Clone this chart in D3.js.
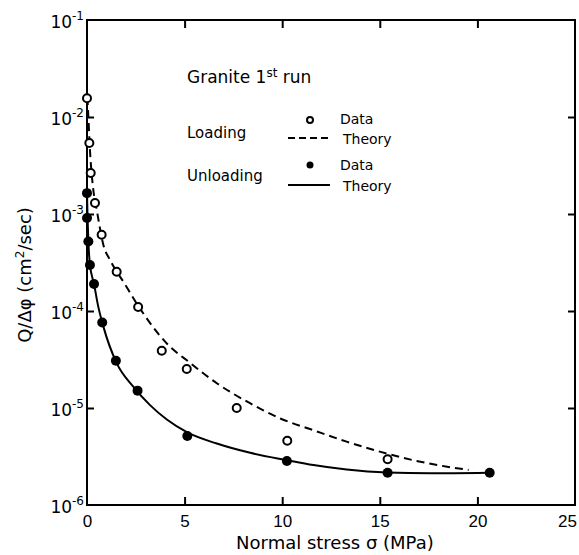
<!DOCTYPE html>
<html>
<head>
<meta charset="utf-8">
<script src="https://cdn.jsdelivr.net/npm/d3@7"></script>
<style>
  body { margin: 0; background: #fff; }
  svg { display: block; font-family: "DejaVu Sans", sans-serif; }
</style>
</head>
<body>
<div id="chart"></div>
<script>
/* Granite 1st run: flow rate vs normal stress */
const xTicks = [0, 5, 10, 15, 20, 25];
const yDecades = [-1, -2, -3, -4, -5, -6];

/* Loading data (open circles) */
const loadSigma = [0.0, 0.12, 0.19, 0.41, 0.75, 1.52, 2.62, 3.83, 5.11, 7.67, 10.26, 15.4];
const loadQ = [1.56e-2, 5.4e-3, 2.65e-3, 1.3e-3, 6.1e-4, 2.54e-4, 1.1e-4, 3.9e-5, 2.52e-5, 1.0e-5, 4.6e-6, 2.96e-6];

/* Unloading data (filled circles) */
const unloadSigma = [0.0, 0.0, 0.07, 0.15, 0.36, 0.78, 1.48, 2.59, 5.14, 10.24, 15.4, 20.63];
const unloadQ = [1.64e-3, 9.1e-4, 5.2e-4, 2.98e-4, 1.9e-4, 7.6e-5, 3.07e-5, 1.51e-5, 5.14e-6, 2.84e-6, 2.15e-6, 2.15e-6];

/* Theory curves */
const loadTheorySigma = [0.02, 0.07, 0.15, 0.32, 0.5, 0.84, 1.2, 1.9, 2.6, 4.1, 5.3, 6.65, 8.35, 9.9, 11.6, 13.3, 15.0, 16.7, 18.45, 19.55];
const loadTheoryQ = [1.6e-2, 1.0e-2, 4.6e-3, 1.8e-3, 1.1e-3, 4.8e-4, 3.3e-4, 1.95e-4, 1.15e-4, 4.6e-5, 2.9e-5, 1.8e-5, 1.12e-5, 7.8e-6, 5.9e-6, 4.5e-6, 3.55e-6, 2.9e-6, 2.48e-6, 2.3e-6];

const unloadTheorySigma = [0.0, 0.03, 0.07, 0.15, 0.36, 0.56, 0.84, 1.52, 2.37, 3.23, 4.09, 5.14, 6.65, 8.36, 10.24, 11.6, 13.3, 15.37, 17.6, 20.5];
const unloadTheoryQ = [1.65e-3, 9e-4, 5.2e-4, 3.0e-4, 1.9e-4, 1.15e-4, 6.9e-5, 2.9e-5, 1.66e-5, 1.07e-5, 7.6e-6, 5.6e-6, 4.3e-6, 3.45e-6, 2.9e-6, 2.58e-6, 2.32e-6, 2.16e-6, 2.12e-6, 2.15e-6];

const width = 579, height = 555;
const margins = { top: 20, right: 4, bottom: 50, left: 87 };

const svg = d3.select("#chart")
  .append("svg")
  .attr("width", width)
  .attr("height", height);

const xScale = d3.scaleLinear()
  .domain([0, 25])
  .range([margins.left, width - margins.right]);

const yScale = d3.scaleLog()
  .domain([1e-6, 1e-1])
  .range([height - margins.bottom, margins.top]);

const decadeValues = yDecades.map(p => Math.pow(10, p));

/* Frame */
svg.append("rect")
  .attr("x", xScale(0))
  .attr("y", yScale(1e-1))
  .attr("width", xScale(25) - xScale(0))
  .attr("height", yScale(1e-6) - yScale(1e-1))
  .attr("fill", "none")
  .attr("stroke", "#000")
  .attr("stroke-width", 2);

/* Inward ticks */
const styleAxis = g => {
  g.select(".domain").remove();
  g.selectAll(".tick line").attr("stroke", "#000").attr("stroke-width", 2);
};

svg.append("g")
  .attr("transform", `translate(0,${yScale(1e-6)})`)
  .call(d3.axisBottom(xScale).tickValues(xTicks).tickSize(-8).tickPadding(10).tickFormat(d3.format("d")))
  .call(styleAxis)
  .call(g => g.selectAll(".tick text")
    .attr("fill", "#000")
    .attr("font-size", "17px"))
  .call(g => g.selectAll(".tick").filter(d => d === 0 || d === 25).select("line").remove())
  .call(g => g.selectAll(".tick").filter(d => d === 25).select("text").attr("dx", -8));

svg.append("g")
  .attr("transform", `translate(0,${yScale(1e-1)})`)
  .call(d3.axisTop(xScale).tickValues(xTicks.slice(1, -1)).tickSize(-8).tickFormat(""))
  .call(styleAxis);

svg.append("g")
  .attr("transform", `translate(${xScale(0)},0)`)
  .call(d3.axisLeft(yScale).tickValues(decadeValues.slice(1, -1)).tickSize(-7).tickFormat(""))
  .call(styleAxis);

svg.append("g")
  .attr("transform", `translate(${xScale(25)},0)`)
  .call(d3.axisRight(yScale).tickValues(decadeValues.slice(1, -1)).tickSize(-7).tickFormat(""))
  .call(styleAxis);

/* Y tick labels with superscripts */
const yLabels = svg.append("g")
  .selectAll("text")
  .data(yDecades)
  .join("text")
    .attr("x", xScale(0) - 3)
    .attr("y", d => yScale(Math.pow(10, d)) + 8)
    .attr("text-anchor", "end")
    .attr("font-size", "17px");

yLabels.append("tspan").text("10");
yLabels.append("tspan")
  .attr("dy", -8)
  .attr("font-size", "12px")
  .text(d => d);

/* Axis titles */
svg.append("text")
  .attr("x", xScale(12.7))
  .attr("y", 549)
  .attr("text-anchor", "middle")
  .attr("font-size", "18px")
  .text("Normal stress σ (MPa)");

const yTitle = svg.append("text")
  .attr("transform", "translate(31,275) rotate(-90)")
  .attr("text-anchor", "middle")
  .attr("font-size", "18px");
yTitle.append("tspan").text("Q/Δφ (cm");
yTitle.append("tspan").attr("dy", -7).attr("font-size", "12px").text("2");
yTitle.append("tspan").attr("dy", 7).text("/sec)");

/* Curves */
const line = d3.line()
  .x(d => xScale(d[0]))
  .y(d => yScale(d[1]))
  .curve(d3.curveMonotoneX);

svg.append("path")
  .datum(d3.zip(loadTheorySigma, loadTheoryQ))
  .attr("d", line)
  .attr("fill", "none")
  .attr("stroke", "#000")
  .attr("stroke-width", 2)
  .attr("stroke-dasharray", "8,5");

svg.append("path")
  .datum(d3.zip(unloadTheorySigma, unloadTheoryQ))
  .attr("d", line)
  .attr("fill", "none")
  .attr("stroke", "#000")
  .attr("stroke-width", 2);

/* Data points */
svg.append("g")
  .selectAll("circle")
  .data(d3.zip(loadSigma, loadQ))
  .join("circle")
    .attr("cx", d => xScale(d[0]))
    .attr("cy", d => yScale(d[1]))
    .attr("r", 4)
    .attr("fill", "#fff")
    .attr("stroke", "#000")
    .attr("stroke-width", 2);

svg.append("g")
  .selectAll("circle")
  .data(d3.zip(unloadSigma, unloadQ))
  .join("circle")
    .attr("cx", d => xScale(d[0]))
    .attr("cy", d => yScale(d[1]))
    .attr("r", 5)
    .attr("fill", "#000");

/* Annotation and legend */
const title = svg.append("text")
  .attr("x", 187)
  .attr("y", 83)
  .attr("font-size", "17px");
title.append("tspan").text("Granite 1");
title.append("tspan").attr("dy", -6).attr("font-size", "12px").text("st");
title.append("tspan").attr("dy", 6).text(" run");

svg.append("text").attr("x", 187).attr("y", 138).attr("font-size", "15px").text("Loading");
svg.append("text").attr("x", 187).attr("y", 181).attr("font-size", "15px").text("Unloading");

svg.append("circle").attr("cx", 310).attr("cy", 120).attr("r", 3)
  .attr("fill", "#fff").attr("stroke", "#000").attr("stroke-width", 2);
svg.append("circle").attr("cx", 310).attr("cy", 165).attr("r", 3.5).attr("fill", "#000");

svg.append("line").attr("x1", 288).attr("x2", 330).attr("y1", 138).attr("y2", 138)
  .attr("stroke", "#000").attr("stroke-width", 2).attr("stroke-dasharray", "7,4");
svg.append("line").attr("x1", 288).attr("x2", 330).attr("y1", 185).attr("y2", 185)
  .attr("stroke", "#000").attr("stroke-width", 2);

const legendText = [["Data", 124], ["Theory", 144], ["Data", 170], ["Theory", 191]];
svg.append("g")
  .selectAll("text")
  .data(legendText)
  .join("text")
    .attr("x", (d, i) => i % 2 === 0 ? 340 : 343)
    .attr("y", d => d[1])
    .attr("font-size", "14px")
    .text(d => d[0]);
</script>
</body>
</html>
